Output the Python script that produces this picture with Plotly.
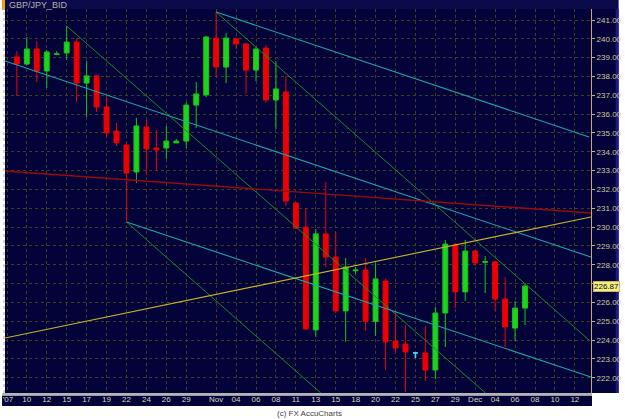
import plotly.graph_objects as go

# ---------------- data ----------------
dates = ["Oct 09", "Oct 10", "Oct 11", "Oct 12", "Oct 14", "Oct 15", "Oct 16", "Oct 17", "Oct 18", "Oct 19",
         "Oct 21", "Oct 22", "Oct 23", "Oct 24", "Oct 25", "Oct 26", "Oct 28", "Oct 29", "Oct 30", "Oct 31",
         "Nov 01", "Nov 02", "Nov 04", "Nov 05", "Nov 06", "Nov 07", "Nov 08", "Nov 09", "Nov 11", "Nov 12",
         "Nov 13", "Nov 14", "Nov 15", "Nov 16", "Nov 18", "Nov 19", "Nov 20", "Nov 21", "Nov 22", "Nov 23",
         "Nov 25", "Nov 26", "Nov 27", "Nov 28", "Nov 29", "Nov 30", "Dec 02", "Dec 03", "Dec 04", "Dec 05",
         "Dec 06", "Dec 07"]
opens = [239.04, 238.66, 239.46, 238.29, 239.17, 239.25, 239.83, 237.65, 238.03, 236.38,
         235.10, 234.36, 232.93, 235.32, 234.20, 234.20, 234.47, 234.57, 236.48, 237.02,
         240.04, 238.50, 240.00, 239.73, 238.34, 239.51, 236.75, 237.18, 231.28, 230.00,
         224.54, 229.64, 228.41, 225.55, 227.68, 227.72, 225.00, 227.14, 223.95, 223.79,
         223.32, 223.32, 222.41, 225.44, 229.05, 226.56, 228.73, 228.13, 228.15, 226.18,
         224.64, 225.70]
highs = [239.35, 240.10, 239.88, 239.41, 239.35, 240.68, 240.04, 238.82, 238.08, 236.96,
         235.53, 234.47, 235.80, 235.69, 235.16, 235.37, 234.68, 236.64, 237.71, 240.15,
         241.42, 240.31, 240.00, 239.78, 239.57, 239.67, 238.82, 238.03, 231.28, 231.02,
         229.90, 232.40, 229.74, 228.36, 227.88, 228.36, 228.10, 227.25, 225.60, 224.80,
         223.32, 224.75, 225.76, 229.32, 229.16, 229.32, 228.79, 228.47, 228.20, 227.35,
         226.08, 227.03]
lows = [236.96, 238.60, 237.71, 237.39, 239.15, 238.88, 236.65, 235.85, 236.11, 234.79,
        234.31, 230.27, 232.34, 232.77, 232.98, 233.62, 234.47, 234.20, 235.27, 236.91,
        237.97, 237.65, 239.46, 237.07, 237.76, 236.59, 235.21, 231.12, 229.90, 224.54,
        224.17, 227.88, 225.44, 223.90, 227.50, 224.49, 224.22, 222.41, 223.32, 221.24,
        223.05, 221.83, 221.93, 223.63, 225.70, 226.08, 227.94, 226.50, 225.55, 223.63,
        223.95, 224.80]
closes = [238.66, 239.46, 238.29, 239.30, 239.20, 239.83, 237.65, 238.03, 236.38, 235.00,
          234.47, 232.87, 235.37, 234.15, 234.10, 234.57, 234.57, 236.48, 237.07, 240.10,
          238.50, 240.04, 239.73, 238.34, 239.46, 236.75, 237.34, 231.39, 229.95, 224.59,
          229.64, 228.41, 225.55, 227.88, 227.72, 225.00, 227.25, 223.90, 223.58, 223.37,
          223.32, 222.41, 225.44, 229.10, 226.56, 228.73, 228.10, 228.17, 226.18, 224.70,
          225.70, 226.87]
neutral_bars = [40]          # unchanged (open == close) bar drawn in cyan
last_price = 226.87

tick_pos = [-0.9, 1, 3, 5, 7, 9, 11, 13, 15, 17, 20, 22, 24, 26, 28, 30, 32, 34, 36, 38,
            40, 42, 44, 46, 48, 50, 52, 54, 56]
tick_text = ["'07", "10", "12", "15", "17", "19", "22", "24", "26", "29", "Nov", "04", "06", "08",
             "11", "13", "15", "18", "20", "22", "25", "27", "29", "Dec", "04", "06", "08", "10", "12"]
price_ticks = list(range(222, 242))

# trend lines: (bar position, price) pairs
teal_lines = [[(-1.19, 238.82), (57.62, 228.41)],
              [(20, 241.42), (57.43, 234.79)],
              [(11, 230.27), (57.62, 222.04)]]
green_lines = [[(5, 240.68), (47.03, 221.19)],
               [(20, 241.42), (57.43, 224.00)],
               [(11, 230.27), (30.5, 221.19)]]
red_line = [(-1.19, 232.98), (57.62, 230.75)]
yellow_line = [(-1.19, 224.11), (57.62, 230.54)]

# ---------------- figure ----------------
W, H = 625, 419
L, R, T, B = 3, 28, 9, 26
PW, PH = W - L - R, H - T - B


def px(xp):
    return (xp - L) / PW


def py(yp):
    return (H - B - yp) / PH


NAVY = "#03033a"
fig = go.Figure()

xs = list(range(len(dates)))
main_idx = [i for i in xs if i not in neutral_bars]
fig.add_trace(go.Candlestick(
    x=[xs[i] for i in main_idx],
    open=[opens[i] for i in main_idx], high=[highs[i] for i in main_idx],
    low=[lows[i] for i in main_idx], close=[closes[i] for i in main_idx],
    increasing=dict(line=dict(color="#14c814", width=1), fillcolor="#1ed21e"),
    decreasing=dict(line=dict(color="#ee0000", width=1), fillcolor="#ee0000"),
    whiskerwidth=0, showlegend=False, hoverinfo="skip"))
fig.add_trace(go.Candlestick(
    x=[xs[i] for i in neutral_bars],
    open=[opens[i] for i in neutral_bars], high=[highs[i] for i in neutral_bars],
    low=[lows[i] for i in neutral_bars], close=[closes[i] for i in neutral_bars],
    increasing=dict(line=dict(color="#40d8e8", width=1.6), fillcolor="#40d8e8"),
    decreasing=dict(line=dict(color="#40d8e8", width=1.6), fillcolor="#40d8e8"),
    whiskerwidth=0, showlegend=False, hoverinfo="skip"))


def add_line(pts, color, width):
    fig.add_trace(go.Scatter(x=[p[0] for p in pts], y=[p[1] for p in pts], mode="lines",
                             line=dict(color=color, width=width), showlegend=False,
                             hoverinfo="skip"))


for ln in green_lines:
    add_line(ln, "#1f8a1f", 1)
for ln in teal_lines:
    add_line(ln, "#1fa8a8", 1.1)
add_line(red_line, "#9a0a0a", 1.4)
add_line(yellow_line, "#c4b428", 1.1)

shapes = [
    # title band
    dict(type="rect", xref="paper", yref="paper", x0=px(0), x1=px(W), y0=py(T), y1=py(0),
         fillcolor="#0b0b4c", line_width=0, layer="below"),
    dict(type="rect", xref="paper", yref="paper", x0=px(0), x1=px(3), y0=py(10), y1=py(0),
         fillcolor="#f0a010", line_width=0, layer="above"),
    # right price panel
    dict(type="rect", xref="paper", yref="paper", x0=1, x1=px(W), y0=py(393), y1=py(T),
         fillcolor=NAVY, line_width=0, layer="below"),
    dict(type="rect", xref="paper", yref="paper", x0=px(622), x1=px(W), y0=py(393), y1=py(T),
         fillcolor="#1a1a8c", line_width=0, layer="below"),
    dict(type="line", xref="paper", yref="paper", x0=px(597.5), x1=px(597.5), y0=py(395), y1=py(T),
         line=dict(color="#c8b070", width=1), layer="above"),
    # date band
    dict(type="rect", xref="paper", yref="paper", x0=px(0), x1=px(598), y0=py(406), y1=py(395.5),
         fillcolor=NAVY, line_width=0, layer="below"),
    dict(type="rect", xref="paper", yref="paper", x0=px(0), x1=px(598), y0=py(395.5), y1=py(393),
         fillcolor="#b4b4b4", line_width=0, layer="above"),
    # left dotted edge
    dict(type="line", xref="paper", yref="paper", x0=px(2), x1=px(2), y0=py(393), y1=py(12),
         line=dict(color="#a8a8a8", width=1, dash="dot"), layer="above"),
]

annotations = [
    dict(text="GBP/JPY_BID", xref="paper", yref="paper", x=px(5), y=py(5), xanchor="left",
         yanchor="middle", showarrow=False, font=dict(family="Liberation Sans", size=9, color="#b8b098")),
    dict(text="(c) FX AccuCharts", xref="paper", yref="paper", x=px(312), y=py(413),
         xanchor="center", yanchor="middle", showarrow=False,
         font=dict(family="Liberation Sans", size=8, color="#404040")),
    dict(text="%.2f" % last_price, xref="paper", yref="y", x=1, y=last_price, xanchor="left",
         yanchor="middle", xshift=2, showarrow=False, bgcolor="#f4f070", bordercolor="#c8b070",
         borderwidth=1, borderpad=0, font=dict(family="Liberation Sans", size=8, color="#000040")),
]

price_text = ["" if abs(v - 227) < 1e-9 else "%.2f" % v for v in price_ticks]

fig.update_layout(
    width=W, height=H, margin=dict(l=L, r=R, t=T, b=B, pad=0),
    paper_bgcolor="white", plot_bgcolor=NAVY, showlegend=False,
    shapes=shapes, annotations=annotations,
    font=dict(family="Liberation Sans", size=8, color="#d8d0b8"),
    xaxis=dict(range=[-1.19, 57.62], tickvals=tick_pos, ticktext=tick_text, showgrid=True,
               gridcolor="#3e3e22", griddash="dot", gridwidth=1, zeroline=False, showline=False,
               ticks="", rangeslider=dict(visible=False), fixedrange=True,
               tickfont=dict(family="Liberation Sans", size=8, color="#dcd4bc")),
    yaxis=dict(range=[221.19, 241.584], side="right", tickvals=price_ticks, ticktext=price_text,
               showgrid=True, gridcolor="#3e3e22", griddash="dot", gridwidth=1, zeroline=False,
               showline=False, ticks="outside", ticklen=3, tickcolor="#c8b070",
               tickfont=dict(family="Liberation Sans", size=8, color="#d0c894")),
    boxgap=0.3,
)

fig.write_html("out.html")
